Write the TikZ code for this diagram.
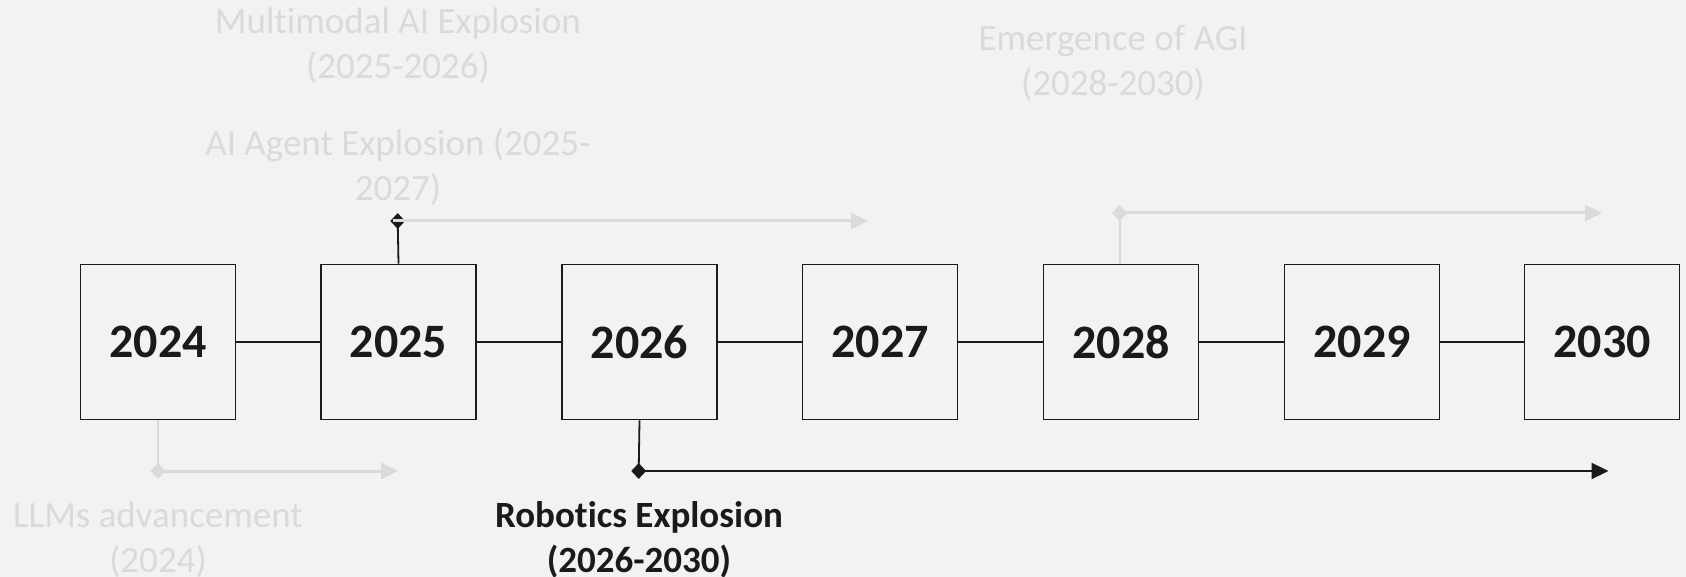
\documentclass[tikz,border=0pt]{standalone}
\usepackage{fontspec}
\setmainfont[Ligatures=NoCommon,RawFeature=-liga]{Carlito}
\usetikzlibrary{arrows.meta,shapes.geometric}
\definecolor{bg}{HTML}{F2F2F2}
\definecolor{faded}{HTML}{DADADA}
\definecolor{ink}{HTML}{1A1A1A}
\tikzset{
  yearbox/.style={draw=ink, line width=1.8pt, fill=bg, minimum width=155pt, minimum height=155pt, inner sep=0pt, text=ink, font=\bfseries\fontsize{48}{56}\selectfont},
  link/.style={draw=ink, line width=1.6pt},
  fadelabel/.style={align=center, text=faded, font=\fontsize{37}{45}\selectfont, inner sep=0pt},
  darklabel/.style={align=center, text=ink, font=\bfseries\fontsize{37}{45}\selectfont, inner sep=0pt},
  fadearrow/.style={draw=faded, line width=3pt, -{Triangle[length=17pt,width=16pt]}},
  darkarrow/.style={draw=ink, line width=2.2pt, -{Triangle[length=17pt,width=16pt]}},
  fadestem/.style={draw=faded, line width=2pt},
  darkstem/.style={draw=ink, line width=1.8pt},
  fadediamond/.style={diamond, fill=faded, minimum width=15pt, minimum height=16pt, inner sep=0pt},
  darkdiamond/.style={diamond, fill=ink, minimum width=15pt, minimum height=16pt, inner sep=0pt},
}
\begin{document}
\begin{tikzpicture}[x=1pt,y=-1pt]
\fill[bg] (0,0) rectangle (1686,577);
\useasboundingbox (0,0) rectangle (1686,577);

% year boxes
\node[yearbox] (b2024) at (158,342) {2024};
\node[yearbox] (b2025) at (398.5,342) {2025};
\node[yearbox] (b2026) at (639.5,342) {2026};
\node[yearbox] (b2027) at (880,342) {2027};
\node[yearbox] (b2028) at (1121,342) {2028};
\node[yearbox] (b2029) at (1362,342) {2029};
\node[yearbox] (b2030) at (1602,342) {2030};

\draw[link] (b2024) -- (b2025);
\draw[link] (b2025) -- (b2026);
\draw[link] (b2026) -- (b2027);
\draw[link] (b2027) -- (b2028);
\draw[link] (b2028) -- (b2029);
\draw[link] (b2029) -- (b2030);

% labels
\node[fadelabel] (lMulti) at (398,45.5) {Multimodal AI Explosion\\(2025-2026)};
\node[fadelabel] (lAgent) at (398,167) {AI Agent Explosion (2025-\\2027)};
\node[fadelabel] (lAGI) at (1113,63) {Emergence of AGI\\(2028-2030)};
\node[fadelabel] (lLLM) at (158,540) {LLMs advancement\\(2024)};
\node[darklabel] (lRob) at (639,539.5) {Robotics Explosion\\(2026-2030)};

% start and end points
\coordinate (pAgent) at (397.7,221);
\coordinate (pAGI) at (1119.5,213);
\coordinate (pLLM) at (158,471);
\coordinate (pRob) at (638.7,471);
\coordinate (eAgent) at (868,221);
\coordinate (eAGI) at (1602,213);
\coordinate (eLLM) at (398,471);
\coordinate (eRob) at (1608.5,471);

% stems
\draw[darkstem] (b2025.north) -- (pAgent);
\draw[fadestem] (b2028.north -| pAGI) -- (pAGI);
\draw[fadestem] (b2024.south) -- (pLLM);
\draw[darkstem] (b2026.south) -- (pRob);

\node[darkdiamond] (dAgent) at (pAgent) {};
\node[fadediamond] (dAGI) at (pAGI) {};
\node[fadediamond] (dLLM) at (pLLM) {};
\node[darkdiamond] (dRob) at (pRob) {};

% arrows
\draw[fadearrow] ([xshift=-5pt]dAgent.center) -- (eAgent);
\draw[fadearrow] (dAGI.center) -- (eAGI);
\draw[fadearrow] (dLLM.center) -- (eLLM);
\draw[darkarrow] (dRob.center) -- (eRob);
\end{tikzpicture}
\end{document}
